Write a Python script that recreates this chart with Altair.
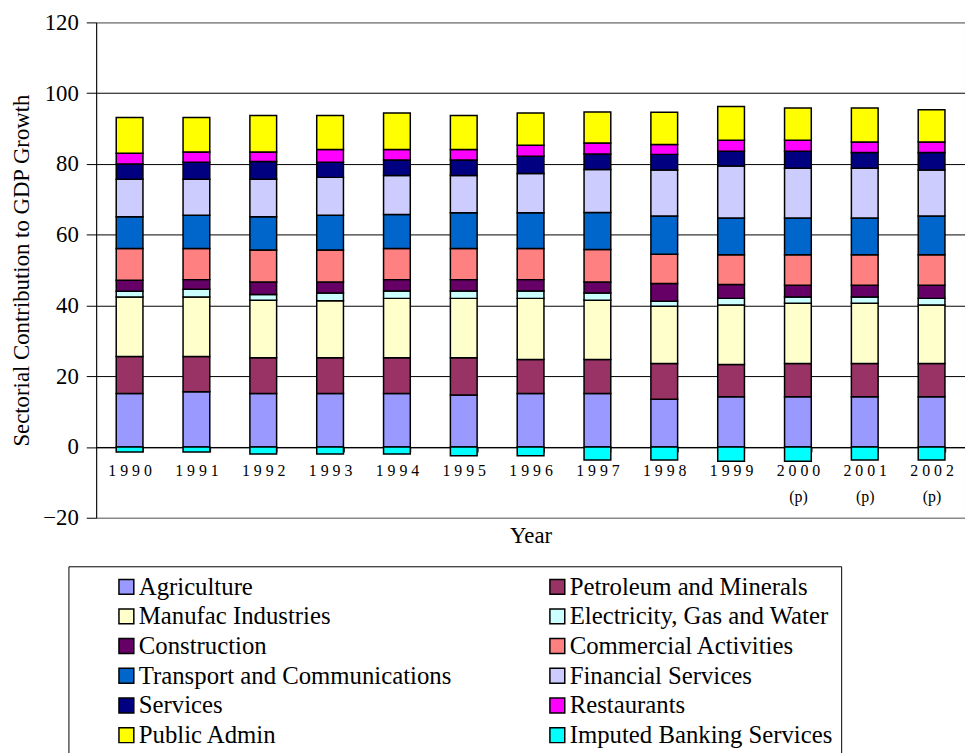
import altair as alt
import pandas as pd

years = ["1990", "1991", "1992", "1993", "1994", "1995", "1996", "1997",
         "1998", "1999", "2000 (p)", "2001 (p)", "2002 (p)"]

sectors = ["Agriculture", "Petroleum and Minerals", "Manufac Industries",
           "Electricity, Gas and Water", "Construction", "Commercial Activities",
           "Transport and Communications", "Financial Services", "Services",
           "Restaurants", "Public Admin", "Imputed Banking Services"]

colors = ["#9999FF", "#993366", "#FFFFCC", "#CCFFFF", "#660066", "#FF8080",
          "#0066CC", "#CCCCFF", "#000080", "#FF00FF", "#FFFF00", "#00FFFF"]

# legend reads row by row in two columns (Vega fills columns first)
legend_order = [sectors[i] for i in (0, 2, 4, 6, 8, 10, 1, 3, 5, 7, 9, 11)]
legend_colors = [colors[i] for i in (0, 2, 4, 6, 8, 10, 1, 3, 5, 7, 9, 11)]

agriculture = [15.1, 15.6, 15.1, 15.1, 15.1, 14.7, 15.1, 15.1, 13.5, 14.2, 14.2, 14.2, 14.2]
petroleum = [10.5, 10.0, 10.1, 10.1, 10.1, 10.5, 9.6, 9.6, 10.1, 9.1, 9.4, 9.4, 9.4]
manufac = [16.8, 16.8, 16.3, 16.1, 16.8, 16.8, 17.3, 16.8, 16.2, 16.8, 17.0, 17.0, 16.5]
electricity = [1.6, 2.2, 1.6, 2.2, 2.1, 2.1, 2.1, 2.0, 1.4, 1.9, 1.8, 1.8, 1.9]
construction = [3.1, 2.7, 3.5, 3.1, 3.2, 3.2, 3.2, 3.1, 5.0, 3.9, 3.3, 3.3, 3.7]
commercial = [9.0, 8.8, 9.1, 9.1, 8.8, 8.8, 8.8, 9.2, 8.3, 8.4, 8.6, 8.6, 8.6]
transport = [9.0, 9.4, 9.4, 9.8, 9.6, 10.1, 10.1, 10.5, 10.8, 10.4, 10.4, 10.4, 11.0]
financial = [10.6, 10.2, 10.6, 10.7, 11.0, 10.5, 11.1, 12.1, 13.0, 14.7, 14.1, 14.1, 13.0]
services = [4.3, 4.8, 5.0, 4.3, 4.4, 4.4, 4.9, 4.4, 4.4, 4.2, 4.8, 4.4, 4.9]
restaurants = [3.0, 2.9, 2.7, 3.6, 3.0, 3.0, 3.1, 3.1, 2.8, 3.1, 3.1, 3.0, 3.0]
public_admin = [10.1, 9.7, 10.3, 9.6, 10.3, 9.6, 9.1, 8.8, 9.1, 9.5, 9.1, 9.6, 9.1]
imputed = [-1.4, -1.4, -2.0, -2.0, -2.0, -2.5, -2.5, -3.7, -3.7, -4.0, -4.0, -3.7, -3.7]

y_ticks = [-20, 0, 20, 40, 60, 80, 100, 120]

series = [agriculture, petroleum, manufac, electricity, construction, commercial,
          transport, financial, services, restaurants, public_admin, imputed]

rows = []
for k, (name, vals) in enumerate(zip(sectors, series)):
    for yr, v in zip(years, vals):
        rows.append({"Year": yr, "Sector": name, "Value": v, "k": k})
df = pd.DataFrame(rows)

FONT = "Liberation Serif"

label_expr = ("datum.value ? (indexof(datum.value, ' ') > 0 ? "
              "[join(split(substring(datum.value, 0, 4), ''), ' '), '(p)'] : "
              "join(split(datum.value, ''), ' ')) : ''")

chart = alt.Chart(df).mark_bar(stroke="black", strokeWidth=1.5).encode(
    x=alt.X("Year:N", sort=years,
            scale=alt.Scale(paddingInner=0.6, paddingOuter=0.3),
            axis=alt.Axis(title="Year", labelAngle=0, offset=-71.43,
                          labelExpr=label_expr, tickBand="extent",
                          tickSize=5, labelPadding=11, labelFont=FONT,
                          labelFontSize=16, labelLineHeight=26, labelColor="black",
                          titleFont=FONT, titleFontSize=23, titleFontWeight="normal",
                          titleColor="black", titleY=89, titleBaseline="middle",
                          domainColor="black", tickColor="black", grid=False)),
    y=alt.Y("Value:Q", stack="zero",
            scale=alt.Scale(domain=[-20, 120], nice=False),
            axis=alt.Axis(title="Sectorial Contribution to GDP Growth",
                          values=y_ticks, tickSize=10, labelPadding=8,
                          labelFont=FONT, labelFontSize=23, labelColor="black",
                          titleFont=FONT, titleFontSize=23, titleFontWeight="normal",
                          titleColor="black", titlePadding=9,
                          domainColor="black", tickColor="black",
                          gridColor={"condition": {"test": "datum.value == 120 || datum.value == -20",
                                                   "value": "#808080"},
                                     "value": "black"},
                          gridOpacity=1)),
    fill=alt.Fill("Sector:N",
                  scale=alt.Scale(domain=legend_order, range=legend_colors),
                  legend=alt.Legend(title=None, orient="none", legendX=-28, legendY=549,
                                    columns=2, gridAlign="all", labelFont=FONT,
                                    labelFontSize=25, labelColor="black",
                                    symbolType="square", symbolSize=225,
                                    symbolStrokeColor="black", symbolStrokeWidth=1.5,
                                    symbolOffset=38, labelOffset=0, rowPadding=4,
                                    columnPadding=56, strokeColor="black", padding=8,
                                    labelLimit=600)),
    order=alt.Order("k:Q", sort="ascending"),
).properties(
    width=877, height=500,
    padding={"left": 3, "top": 0, "right": 0, "bottom": 0},
).configure_view(stroke="#808080", strokeWidth=1)

chart.save("out.html", embed_options={"renderer": "svg", "actions": False})
